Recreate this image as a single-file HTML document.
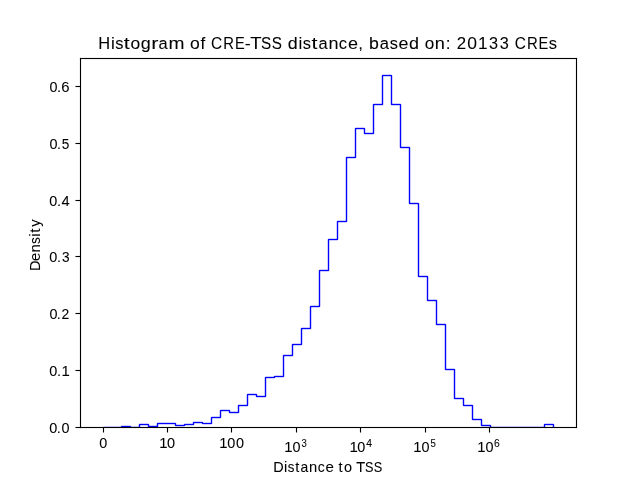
<!DOCTYPE html>
<html><head><meta charset="utf-8"><title>Histogram of CRE-TSS distance</title>
<style>
html,body{margin:0;padding:0;background:#fff;}
body{width:640px;height:480px;overflow:hidden;}
svg{display:block;will-change:transform;}
text{font-family:"Liberation Sans",sans-serif;fill:#000;stroke:#000;stroke-width:0.06px;}
</style></head><body>
<svg width="640" height="480" viewBox="0 0 640 480">
<rect width="640" height="480" fill="#fff"/>
<g shape-rendering="crispEdges">
<path fill="#00f" fill-opacity="0.098" d="M103 426h1v1h-1z"/>
<path fill="#00f" fill-opacity="0.1176" d="M382 74h1v1h-1zM391 74h1v1h-1zM381 75h1v1h-1zM392 75h1v1h-1zM373 103h1v1h-1zM400 103h1v1h-1zM372 104h1v1h-1zM383 104h1v1h-1zM390 104h1v1h-1zM401 104h1v1h-1zM382 105h1v1h-1zM391 105h1v1h-1zM355 127h1v1h-1zM364 127h1v1h-1zM354 128h1v1h-1zM365 128h1v1h-1zM363 133h1v1h-1zM374 133h1v1h-1zM364 134h1v1h-1zM373 134h1v1h-1zM409 146h1v1h-1zM399 147h1v1h-1zM410 147h1v1h-1zM400 148h1v1h-1zM346 156h1v1h-1zM345 157h1v1h-1zM356 157h1v1h-1zM355 158h1v1h-1zM418 202h1v1h-1zM408 203h1v1h-1zM419 203h1v1h-1zM409 204h1v1h-1zM337 220h1v1h-1zM336 221h1v1h-1zM347 221h1v1h-1zM346 222h1v1h-1zM328 238h1v1h-1zM327 239h1v1h-1zM338 239h1v1h-1zM337 240h1v1h-1zM319 269h1v1h-1zM318 270h1v1h-1zM329 270h1v1h-1zM328 271h1v1h-1zM427 275h1v1h-1zM417 276h1v1h-1zM428 276h1v1h-1zM418 277h1v1h-1zM436 299h1v1h-1zM426 300h1v1h-1zM437 300h1v1h-1zM427 301h1v1h-1zM310 305h1v1h-1zM309 306h1v1h-1zM320 306h1v1h-1zM319 307h1v1h-1zM445 323h1v1h-1zM435 324h1v1h-1zM446 324h1v1h-1zM436 325h1v1h-1zM301 327h1v1h-1zM300 328h1v1h-1zM311 328h1v1h-1zM310 329h1v1h-1zM292 343h1v1h-1zM291 344h1v1h-1zM302 344h1v1h-1zM301 345h1v1h-1zM283 354h1v1h-1zM282 355h1v1h-1zM293 355h1v1h-1zM292 356h1v1h-1zM454 368h1v1h-1zM444 369h1v1h-1zM455 369h1v1h-1zM445 370h1v1h-1zM274 375h1v1h-1zM265 376h1v1h-1zM284 376h1v1h-1zM264 377h1v1h-1zM283 377h1v1h-1zM274 378h1v1h-1zM247 393h1v1h-1zM256 393h1v1h-1zM246 394h1v1h-1zM257 394h1v1h-1zM255 396h1v1h-1zM266 396h1v1h-1zM256 397h1v1h-1zM265 397h1v1h-1zM463 397h1v1h-1zM453 398h1v1h-1zM464 398h1v1h-1zM454 399h1v1h-1zM238 404h1v1h-1zM472 404h1v1h-1zM237 405h1v1h-1zM248 405h1v1h-1zM462 405h1v1h-1zM473 405h1v1h-1zM247 406h1v1h-1zM463 406h1v1h-1zM220 409h1v1h-1zM229 409h1v1h-1zM219 410h1v1h-1zM230 410h1v1h-1zM228 412h1v1h-1zM239 412h1v1h-1zM229 413h1v1h-1zM238 413h1v1h-1zM211 416h1v1h-1zM210 417h1v1h-1zM221 417h1v1h-1zM220 418h1v1h-1zM481 418h1v1h-1zM471 419h1v1h-1zM482 419h1v1h-1zM472 420h1v1h-1zM193 421h1v1h-1zM202 421h1v1h-1zM157 422h1v1h-1zM175 422h1v1h-1zM192 422h1v1h-1zM139 423h1v1h-1zM148 423h1v1h-1zM156 423h1v1h-1zM176 423h1v1h-1zM184 423h1v1h-1zM212 423h1v1h-1zM544 423h1v1h-1zM553 423h1v1h-1zM138 424h1v1h-1zM149 424h1v1h-1zM194 424h1v1h-1zM202 424h1v1h-1zM211 424h1v1h-1zM490 424h1v1h-1zM543 424h1v1h-1zM554 424h1v1h-1zM121 425h1v1h-1zM130 425h1v1h-1zM174 425h1v1h-1zM193 425h1v1h-1zM480 425h1v1h-1zM491 425h1v1h-1zM147 426h1v1h-1zM158 426h1v1h-1zM175 426h1v1h-1zM184 426h1v1h-1zM481 426h1v1h-1z"/>
<path fill="#00f" fill-opacity="0.1961" d="M383 74h8v1h-8zM381 76h1v27h-1zM384 76h6v1h-6zM392 76h1v27h-1zM383 77h1v27h-1zM390 77h1v27h-1zM374 103h7v1h-7zM393 103h7v1h-7zM372 105h1v27h-1zM375 105h7v1h-7zM392 105h7v1h-7zM401 105h1v41h-1zM374 106h1v27h-1zM399 106h1v41h-1zM356 127h8v1h-8zM354 129h1v27h-1zM357 129h6v1h-6zM365 129h1v3h-1zM356 130h1v27h-1zM363 130h1v3h-1zM366 132h6v1h-6zM365 134h8v1h-8zM402 146h7v1h-7zM401 148h7v1h-7zM410 148h1v54h-1zM408 149h1v54h-1zM347 156h7v1h-7zM345 158h1v62h-1zM348 158h7v1h-7zM347 159h1v62h-1zM411 202h7v1h-7zM410 204h7v1h-7zM419 204h1v71h-1zM417 205h1v71h-1zM338 220h7v1h-7zM336 222h1v16h-1zM339 222h7v1h-7zM338 223h1v16h-1zM329 238h7v1h-7zM327 240h1v29h-1zM330 240h7v1h-7zM329 241h1v29h-1zM320 269h7v1h-7zM318 271h1v34h-1zM321 271h7v1h-7zM320 272h1v34h-1zM420 275h7v1h-7zM419 277h7v1h-7zM428 277h1v22h-1zM426 278h1v22h-1zM429 299h7v1h-7zM428 301h7v1h-7zM437 301h1v22h-1zM435 302h1v22h-1zM311 305h7v1h-7zM309 307h1v20h-1zM312 307h7v1h-7zM311 308h1v20h-1zM438 323h7v1h-7zM437 325h7v1h-7zM446 325h1v43h-1zM444 326h1v43h-1zM302 327h7v1h-7zM300 329h1v14h-1zM303 329h7v1h-7zM302 330h1v14h-1zM293 343h7v1h-7zM291 345h1v9h-1zM294 345h7v1h-7zM293 346h1v9h-1zM284 354h7v1h-7zM282 356h1v19h-1zM285 356h7v1h-7zM284 357h1v19h-1zM447 368h7v1h-7zM446 370h7v1h-7zM455 370h1v27h-1zM453 371h1v27h-1zM275 375h7v1h-7zM266 376h7v1h-7zM276 377h7v1h-7zM264 378h1v17h-1zM267 378h7v1h-7zM266 379h1v17h-1zM248 393h8v1h-8zM246 395h1v9h-1zM249 395h6v1h-6zM258 395h6v1h-6zM248 396h1v9h-1zM257 397h8v1h-8zM456 397h7v1h-7zM455 399h7v1h-7zM464 399h1v5h-1zM462 400h1v5h-1zM239 404h7v1h-7zM465 404h7v1h-7zM237 406h1v5h-1zM240 406h7v1h-7zM464 406h7v1h-7zM473 406h1v12h-1zM239 407h1v5h-1zM471 407h1v12h-1zM221 409h8v1h-8zM219 411h1v5h-1zM222 411h6v1h-6zM231 411h6v1h-6zM221 412h1v5h-1zM230 413h8v1h-8zM212 416h7v1h-7zM210 418h1v4h-1zM213 418h7v1h-7zM474 418h7v1h-7zM212 419h1v4h-1zM473 420h7v1h-7zM482 420h1v4h-1zM194 421h8v1h-8zM480 421h1v4h-1zM158 422h17v1h-17zM204 422h6v1h-6zM140 423h8v1h-8zM185 423h7v1h-7zM195 423h6v1h-6zM545 423h8v1h-8zM156 424h1v1h-1zM159 424h15v1h-15zM177 424h6v1h-6zM203 424h8v1h-8zM483 424h7v1h-7zM122 425h8v1h-8zM138 425h1v1h-1zM141 425h6v1h-6zM150 425h6v1h-6zM158 425h1v1h-1zM186 425h7v1h-7zM543 425h1v1h-1zM546 425h6v1h-6zM554 425h1v2h-1zM104 426h16v1h-16zM132 426h6v1h-6zM140 426h1v1h-1zM176 426h8v1h-8zM482 426h7v1h-7zM492 426h51v1h-51zM545 426h1v1h-1zM552 426h1v1h-1z"/>
<path fill="#00f" fill-opacity="0.2784" d="M273 376h1v1h-1zM275 377h1v1h-1zM203 422h1v1h-1zM201 423h1v1h-1zM183 424h1v1h-1zM185 425h1v1h-1zM120 426h1v1h-1zM131 426h1v1h-1z"/>
<path fill="#00f" fill-opacity="0.3569" d="M383 76h1v1h-1zM390 76h1v1h-1zM381 103h1v1h-1zM392 103h1v1h-1zM374 105h1v1h-1zM399 105h1v1h-1zM356 129h1v1h-1zM363 129h1v1h-1zM365 132h1v1h-1zM372 132h1v1h-1zM401 146h1v1h-1zM408 148h1v1h-1zM354 156h1v1h-1zM347 158h1v1h-1zM410 202h1v1h-1zM417 204h1v1h-1zM345 220h1v1h-1zM338 222h1v1h-1zM336 238h1v1h-1zM329 240h1v1h-1zM327 269h1v1h-1zM320 271h1v1h-1zM419 275h1v1h-1zM426 277h1v1h-1zM428 299h1v1h-1zM435 301h1v1h-1zM318 305h1v1h-1zM311 307h1v1h-1zM437 323h1v1h-1zM444 325h1v1h-1zM309 327h1v1h-1zM302 329h1v1h-1zM300 343h1v1h-1zM293 345h1v1h-1zM291 354h1v1h-1zM284 356h1v1h-1zM446 368h1v1h-1zM453 370h1v1h-1zM282 375h1v1h-1zM266 378h1v1h-1zM248 395h1v1h-1zM255 395h1v1h-1zM257 395h1v1h-1zM264 395h1v1h-1zM455 397h1v1h-1zM462 399h1v1h-1zM246 404h1v1h-1zM464 404h1v1h-1zM239 406h1v1h-1zM471 406h1v1h-1zM221 411h1v1h-1zM228 411h1v1h-1zM230 411h1v1h-1zM237 411h1v1h-1zM219 416h1v1h-1zM212 418h1v1h-1zM473 418h1v1h-1zM480 420h1v1h-1zM210 422h1v1h-1zM192 423h1v1h-1zM194 423h1v1h-1zM158 424h1v1h-1zM174 424h1v1h-1zM176 424h1v1h-1zM482 424h1v1h-1zM140 425h1v1h-1zM147 425h1v1h-1zM149 425h1v1h-1zM156 425h1v1h-1zM545 425h1v1h-1zM552 425h1v1h-1zM138 426h1v1h-1zM489 426h1v1h-1zM491 426h1v1h-1zM543 426h1v1h-1z"/>
<path fill="#00f" fill-opacity="0.9608" d="M382 75h1v1h-1zM391 75h1v1h-1zM373 104h1v1h-1zM382 104h1v1h-1zM391 104h1v1h-1zM400 104h1v1h-1zM355 128h1v1h-1zM364 128h1v1h-1zM364 133h1v1h-1zM373 133h1v1h-1zM400 147h1v1h-1zM409 147h1v1h-1zM346 157h1v1h-1zM355 157h1v1h-1zM409 203h1v1h-1zM418 203h1v1h-1zM337 221h1v1h-1zM346 221h1v1h-1zM328 239h1v1h-1zM337 239h1v1h-1zM319 270h1v1h-1zM328 270h1v1h-1zM418 276h1v1h-1zM427 276h1v1h-1zM427 300h1v1h-1zM436 300h1v1h-1zM310 306h1v1h-1zM319 306h1v1h-1zM436 324h1v1h-1zM445 324h1v1h-1zM301 328h1v1h-1zM310 328h1v1h-1zM292 344h1v1h-1zM301 344h1v1h-1zM283 355h1v1h-1zM292 355h1v1h-1zM445 369h1v1h-1zM454 369h1v1h-1zM274 376h1v2h-1zM283 376h1v1h-1zM265 377h1v1h-1zM247 394h1v1h-1zM256 394h1v1h-1zM256 396h1v1h-1zM265 396h1v1h-1zM454 398h1v1h-1zM463 398h1v1h-1zM238 405h1v1h-1zM247 405h1v1h-1zM463 405h1v1h-1zM472 405h1v1h-1zM220 410h1v1h-1zM229 410h1v1h-1zM229 412h1v1h-1zM238 412h1v1h-1zM211 417h1v1h-1zM220 417h1v1h-1zM472 419h1v1h-1zM481 419h1v1h-1zM193 422h1v1h-1zM202 422h1v2h-1zM157 423h1v1h-1zM175 423h1v1h-1zM211 423h1v1h-1zM139 424h1v1h-1zM148 424h1v1h-1zM184 424h1v2h-1zM193 424h1v1h-1zM544 424h1v1h-1zM553 424h1v1h-1zM175 425h1v1h-1zM481 425h1v1h-1zM490 425h1v1h-1zM121 426h1v1h-1zM130 426h1v1h-1zM148 426h1v1h-1zM157 426h1v1h-1z"/>
<path fill="#00f" fill-opacity="1" d="M383 75h8v1h-8zM382 76h1v28h-1zM391 76h1v28h-1zM374 104h8v1h-8zM392 104h8v1h-8zM373 105h1v28h-1zM400 105h1v42h-1zM356 128h8v1h-8zM355 129h1v28h-1zM364 129h1v4h-1zM365 133h8v1h-8zM401 147h8v1h-8zM409 148h1v55h-1zM347 157h8v1h-8zM346 158h1v63h-1zM410 203h8v1h-8zM418 204h1v72h-1zM338 221h8v1h-8zM337 222h1v17h-1zM329 239h8v1h-8zM328 240h1v30h-1zM320 270h8v1h-8zM319 271h1v35h-1zM419 276h8v1h-8zM427 277h1v23h-1zM428 300h8v1h-8zM436 301h1v23h-1zM311 306h8v1h-8zM310 307h1v21h-1zM437 324h8v1h-8zM445 325h1v44h-1zM302 328h8v1h-8zM301 329h1v15h-1zM293 344h8v1h-8zM292 345h1v10h-1zM284 355h8v1h-8zM283 356h1v20h-1zM446 369h8v1h-8zM454 370h1v28h-1zM275 376h8v1h-8zM266 377h8v1h-8zM265 378h1v18h-1zM248 394h8v1h-8zM247 395h1v10h-1zM256 395h1v1h-1zM257 396h8v1h-8zM455 398h8v1h-8zM463 399h1v6h-1zM239 405h8v1h-8zM464 405h8v1h-8zM238 406h1v6h-1zM472 406h1v13h-1zM221 410h8v1h-8zM220 411h1v6h-1zM229 411h1v1h-1zM230 412h8v1h-8zM212 417h8v1h-8zM211 418h1v5h-1zM473 419h8v1h-8zM481 420h1v5h-1zM194 422h8v1h-8zM158 423h17v1h-17zM193 423h1v1h-1zM203 423h8v1h-8zM140 424h8v1h-8zM157 424h1v2h-1zM175 424h1v1h-1zM185 424h8v1h-8zM545 424h8v1h-8zM139 425h1v2h-1zM148 425h1v1h-1zM176 425h8v1h-8zM482 425h8v1h-8zM544 425h1v2h-1zM553 425h1v2h-1zM122 426h8v1h-8zM149 426h8v1h-8zM490 426h1v1h-1z"/>
<path fill="#000" fill-opacity="0.0078" d="M79 57h1v1h-1zM577 57h1v1h-1zM577 428h1v1h-1z"/>
<path fill="#000" fill-opacity="0.0275" d="M75 85h1v1h-1zM75 87h1v1h-1zM75 142h1v1h-1zM75 144h1v1h-1zM75 199h1v1h-1zM75 201h1v1h-1zM75 255h1v1h-1zM75 257h1v1h-1zM75 312h1v1h-1zM75 314h1v1h-1zM75 369h1v1h-1zM75 371h1v1h-1zM75 426h1v1h-1zM75 428h1v1h-1zM102 432h1v1h-1zM104 432h1v1h-1zM166 432h1v1h-1zM168 432h1v1h-1zM230 432h1v1h-1zM232 432h1v1h-1zM295 432h1v1h-1zM297 432h1v1h-1zM359 432h1v1h-1zM361 432h1v1h-1zM424 432h1v1h-1zM426 432h1v1h-1zM488 432h1v1h-1zM490 432h1v1h-1z"/>
<path fill="#000" fill-opacity="0.0549" d="M82 57h493v1h-493zM82 59h493v1h-493zM79 60h1v25h-1zM81 60h1v366h-1zM575 60h1v366h-1zM577 60h1v366h-1zM76 85h3v1h-3zM76 87h3v1h-3zM79 88h1v54h-1zM76 142h3v1h-3zM76 144h3v1h-3zM79 145h1v54h-1zM76 199h3v1h-3zM76 201h3v1h-3zM79 202h1v53h-1zM76 255h3v1h-3zM76 257h3v1h-3zM79 258h1v54h-1zM76 312h3v1h-3zM76 314h3v1h-3zM79 315h1v54h-1zM76 369h3v1h-3zM76 371h3v1h-3zM79 372h1v54h-1zM76 426h3v1h-3zM82 426h493v1h-493zM76 428h3v1h-3zM82 428h20v1h-20zM105 428h61v1h-61zM169 428h61v1h-61zM233 428h62v1h-62zM298 428h61v1h-61zM362 428h62v1h-62zM427 428h61v1h-61zM491 428h84v1h-84zM102 429h1v3h-1zM104 429h1v3h-1zM166 429h1v3h-1zM168 429h1v3h-1zM230 429h1v3h-1zM232 429h1v3h-1zM295 429h1v3h-1zM297 429h1v3h-1zM359 429h1v3h-1zM361 429h1v3h-1zM424 429h1v3h-1zM426 429h1v3h-1zM488 429h1v3h-1zM490 429h1v3h-1z"/>
<path fill="#000" fill-opacity="0.0588" d="M81 57h1v1h-1zM575 57h1v1h-1zM79 59h1v1h-1zM577 59h1v1h-1zM577 426h1v1h-1zM81 428h1v1h-1zM575 428h1v1h-1z"/>
<path fill="#000" fill-opacity="0.0627" d="M79 428h1v1h-1z"/>
<path fill="#000" fill-opacity="0.1098" d="M80 57h1v1h-1zM576 57h1v1h-1zM79 58h1v1h-1zM577 58h1v1h-1zM81 59h1v1h-1zM575 59h1v1h-1zM79 85h1v1h-1zM79 87h1v1h-1zM79 142h1v1h-1zM79 144h1v1h-1zM79 199h1v1h-1zM79 201h1v1h-1zM79 255h1v1h-1zM79 257h1v1h-1zM79 312h1v1h-1zM79 314h1v1h-1zM79 369h1v1h-1zM79 371h1v1h-1zM81 426h1v1h-1zM575 426h1v1h-1zM577 427h1v1h-1zM102 428h1v1h-1zM104 428h1v1h-1zM166 428h1v1h-1zM168 428h1v1h-1zM230 428h1v1h-1zM232 428h1v1h-1zM295 428h1v1h-1zM297 428h1v1h-1zM359 428h1v1h-1zM361 428h1v1h-1zM424 428h1v1h-1zM426 428h1v1h-1zM488 428h1v1h-1zM490 428h1v1h-1zM576 428h1v1h-1z"/>
<path fill="#000" fill-opacity="0.1137" d="M79 426h1v1h-1z"/>
<path fill="#000" fill-opacity="0.1333" d="M80 428h1v1h-1z"/>
<path fill="#000" fill-opacity="0.502" d="M75 86h1v1h-1zM75 143h1v1h-1zM75 200h1v1h-1zM75 256h1v1h-1zM75 313h1v1h-1zM75 370h1v1h-1zM75 427h1v1h-1zM103 432h1v1h-1zM167 432h1v1h-1zM231 432h1v1h-1zM296 432h1v1h-1zM360 432h1v1h-1zM425 432h1v1h-1zM489 432h1v1h-1z"/>
<path fill="#000" fill-opacity="1" d="M80 58h497v1h-497zM80 59h1v27h-1zM576 59h1v368h-1zM76 86h5v1h-5zM80 87h1v56h-1zM76 143h5v1h-5zM80 144h1v56h-1zM76 200h5v1h-5zM80 201h1v55h-1zM76 256h5v1h-5zM80 257h1v56h-1zM76 313h5v1h-5zM80 314h1v56h-1zM76 370h5v1h-5zM80 371h1v56h-1zM76 427h501v1h-501zM103 428h1v4h-1zM167 428h1v4h-1zM231 428h1v4h-1zM296 428h1v4h-1zM360 428h1v4h-1zM425 428h1v4h-1zM489 428h1v4h-1z"/>
</g>
<text x="0.601 13.243 17.527 25.876 32.567 42.838 53.018 60.279 70.106 85.289 91.459 101.867 106.673 112.346 124.397 135.979 145.717 151.249 161.853 172.441 183.607 188.321 198.929 203.131 211.886 218.657 228.595 238.835 247.91 258.191 263.08 268.772 279.428 289.179 298.051 308.29 318.896 323.834 333.875 344.72 349.56 355.697 366.065 376.722 387.636 398.282 408.372 412.963 425.071 436.479 446.771" y="0" font-size="17" transform="translate(97.6 49) scale(1.01 1)"><tspan textLength="11.782" lengthAdjust="spacingAndGlyphs">H</tspan>i<tspan textLength="8.168" lengthAdjust="spacingAndGlyphs">s</tspan><tspan textLength="5.904" lengthAdjust="spacingAndGlyphs">t</tspan><tspan textLength="9.598" lengthAdjust="spacingAndGlyphs">o</tspan><tspan textLength="9.906" lengthAdjust="spacingAndGlyphs">g</tspan><tspan textLength="7.076" lengthAdjust="spacingAndGlyphs">r</tspan><tspan textLength="9.068" lengthAdjust="spacingAndGlyphs">a</tspan><tspan textLength="15.873" lengthAdjust="spacingAndGlyphs">m</tspan> <tspan textLength="9.668" lengthAdjust="spacingAndGlyphs">o</tspan>f <tspan textLength="11.069" lengthAdjust="spacingAndGlyphs">C</tspan><tspan textLength="10.605" lengthAdjust="spacingAndGlyphs">R</tspan><tspan textLength="9.638" lengthAdjust="spacingAndGlyphs">E</tspan><tspan textLength="5.894" lengthAdjust="spacingAndGlyphs">-</tspan><tspan textLength="11.208" lengthAdjust="spacingAndGlyphs">T</tspan><tspan textLength="10.105" lengthAdjust="spacingAndGlyphs">S</tspan><tspan textLength="10.097" lengthAdjust="spacingAndGlyphs">S</tspan> <tspan textLength="9.86" lengthAdjust="spacingAndGlyphs">d</tspan>i<tspan textLength="8.146" lengthAdjust="spacingAndGlyphs">s</tspan><tspan textLength="5.904" lengthAdjust="spacingAndGlyphs">t</tspan><tspan textLength="9.061" lengthAdjust="spacingAndGlyphs">a</tspan><tspan textLength="9.93" lengthAdjust="spacingAndGlyphs">n</tspan><tspan textLength="8.183" lengthAdjust="spacingAndGlyphs">c</tspan><tspan textLength="9.947" lengthAdjust="spacingAndGlyphs">e</tspan>, <tspan textLength="9.747" lengthAdjust="spacingAndGlyphs">b</tspan><tspan textLength="9.126" lengthAdjust="spacingAndGlyphs">a</tspan><tspan textLength="8.118" lengthAdjust="spacingAndGlyphs">s</tspan><tspan textLength="9.831" lengthAdjust="spacingAndGlyphs">e</tspan><tspan textLength="9.9" lengthAdjust="spacingAndGlyphs">d</tspan> <tspan textLength="9.435" lengthAdjust="spacingAndGlyphs">o</tspan><tspan textLength="9.994" lengthAdjust="spacingAndGlyphs">n</tspan>: <tspan textLength="9.262" lengthAdjust="spacingAndGlyphs">2</tspan><tspan textLength="9.65" lengthAdjust="spacingAndGlyphs">0</tspan><tspan textLength="9.485" lengthAdjust="spacingAndGlyphs">1</tspan><tspan textLength="8.975" lengthAdjust="spacingAndGlyphs">3</tspan><tspan textLength="8.968" lengthAdjust="spacingAndGlyphs">3</tspan> <tspan textLength="11.041" lengthAdjust="spacingAndGlyphs">C</tspan><tspan textLength="10.661" lengthAdjust="spacingAndGlyphs">R</tspan><tspan textLength="9.638" lengthAdjust="spacingAndGlyphs">E</tspan><tspan textLength="8.179" lengthAdjust="spacingAndGlyphs">s</tspan></text>
<text x="2.281 9.667 14.129" y="0" font-size="14" transform="translate(46.9 433) scale(1.03 1)"><tspan textLength="7.813" lengthAdjust="spacingAndGlyphs">0</tspan>.0</text>
<text x="2.328 9.575 13.903" y="0" font-size="14" transform="translate(46.9 376) scale(1.043 1)"><tspan textLength="7.703" lengthAdjust="spacingAndGlyphs">0</tspan>.<tspan textLength="7.924" lengthAdjust="spacingAndGlyphs">1</tspan></text>
<text x="2.552 9.809 14.337" y="0" font-size="14" transform="translate(46.9 319) scale(1.016 1)"><tspan textLength="7.888" lengthAdjust="spacingAndGlyphs">0</tspan>.<tspan textLength="7.648" lengthAdjust="spacingAndGlyphs">2</tspan></text>
<text x="2.446 10.052 14.913" y="0" font-size="14" transform="translate(46.9 262) scale(1.005 1)"><tspan textLength="7.985" lengthAdjust="spacingAndGlyphs">0</tspan>.<tspan textLength="7.538" lengthAdjust="spacingAndGlyphs">3</tspan></text>
<text x="2.352 9.606 14.042" y="0" font-size="14" transform="translate(46.9 206) scale(1.042 1)"><tspan textLength="7.698" lengthAdjust="spacingAndGlyphs">0</tspan>.<tspan textLength="7.827" lengthAdjust="spacingAndGlyphs">4</tspan></text>
<text x="2.56 9.963 14.812" y="0" font-size="14" transform="translate(46.9 149) scale(1.002 1)"><tspan textLength="8.002" lengthAdjust="spacingAndGlyphs">0</tspan>.<tspan textLength="7.563" lengthAdjust="spacingAndGlyphs">5</tspan></text>
<text x="2.454 9.599 13.795" y="0" font-size="14" transform="translate(46.9 92) scale(1.049 1)"><tspan textLength="7.619" lengthAdjust="spacingAndGlyphs">0</tspan>.<tspan textLength="7.887" lengthAdjust="spacingAndGlyphs">6</tspan></text>
<text x="2.373" y="0" font-size="14" transform="translate(96.9 448) scale(1.033 1)"><tspan textLength="7.761" lengthAdjust="spacingAndGlyphs">0</tspan></text>
<text x="2.332 9.786" y="0" font-size="14" transform="translate(156.9 448) scale(1.044 1)"><tspan textLength="7.908" lengthAdjust="spacingAndGlyphs">1</tspan><tspan textLength="7.728" lengthAdjust="spacingAndGlyphs">0</tspan></text>
<text x="2.277 10.018 18.271" y="0" font-size="14" transform="translate(216.9 448) scale(1.042 1)"><tspan textLength="7.932" lengthAdjust="spacingAndGlyphs">1</tspan><tspan textLength="7.721" lengthAdjust="spacingAndGlyphs">0</tspan><tspan textLength="7.734" lengthAdjust="spacingAndGlyphs">0</tspan></text>
<text x="2.321 10.087" y="0" font-size="14" transform="translate(281.9 452) scale(1.043 1)"><tspan textLength="7.921" lengthAdjust="spacingAndGlyphs">1</tspan><tspan textLength="7.681" lengthAdjust="spacingAndGlyphs">0</tspan></text>
<text x="3.878" y="0" font-size="10" transform="translate(298 447) scale(0.932 1)"><tspan textLength="5.688" lengthAdjust="spacingAndGlyphs">3</tspan></text>
<text x="2.401 9.974" y="0" font-size="14" transform="translate(346.9 452) scale(1.044 1)"><tspan textLength="7.969" lengthAdjust="spacingAndGlyphs">1</tspan><tspan textLength="7.696" lengthAdjust="spacingAndGlyphs">0</tspan></text>
<text x="3.279" y="0" font-size="10" transform="translate(362.8 447) scale(1.031 1)"><tspan textLength="5.55" lengthAdjust="spacingAndGlyphs">4</tspan></text>
<text x="2.321 10.087" y="0" font-size="14" transform="translate(410.9 452) scale(1.043 1)"><tspan textLength="7.921" lengthAdjust="spacingAndGlyphs">1</tspan><tspan textLength="7.681" lengthAdjust="spacingAndGlyphs">0</tspan></text>
<text x="4.171" y="0" font-size="10" transform="translate(426.5 447) scale(0.963 1)"><tspan textLength="5.548" lengthAdjust="spacingAndGlyphs">5</tspan></text>
<text x="2.321 10.087" y="0" font-size="14" transform="translate(474.9 452) scale(1.043 1)"><tspan textLength="7.921" lengthAdjust="spacingAndGlyphs">1</tspan><tspan textLength="7.681" lengthAdjust="spacingAndGlyphs">0</tspan></text>
<text x="3.57" y="0" font-size="10" transform="translate(490.4 447) scale(1.04 1)"><tspan textLength="5.549" lengthAdjust="spacingAndGlyphs">6</tspan></text>
<text x="1.479 11.832 15.349 22.46 27.589 35.759 44.105 51.38 59.138 63.885 68.943 76.767 80.816 89.121 97.501" y="0" font-size="14" transform="translate(271.7 472) scale(1.047 1)"><tspan textLength="9.979" lengthAdjust="spacingAndGlyphs">D</tspan>i<tspan textLength="6.367" lengthAdjust="spacingAndGlyphs">s</tspan>t<tspan textLength="7.398" lengthAdjust="spacingAndGlyphs">a</tspan><tspan textLength="7.828" lengthAdjust="spacingAndGlyphs">n</tspan><tspan textLength="6.661" lengthAdjust="spacingAndGlyphs">c</tspan><tspan textLength="8.003" lengthAdjust="spacingAndGlyphs">e</tspan> t<tspan textLength="7.694" lengthAdjust="spacingAndGlyphs">o</tspan> <tspan textLength="8.531" lengthAdjust="spacingAndGlyphs">T</tspan><tspan textLength="8.102" lengthAdjust="spacingAndGlyphs">S</tspan><tspan textLength="8.142" lengthAdjust="spacingAndGlyphs">S</tspan></text>
<text x="8.35 17.443 25.351 33.101 39.824 43.522 48.842" y="0" font-size="14" transform="translate(39.958 280) rotate(-90) scale(1.088 1)"><tspan textLength="9.601" lengthAdjust="spacingAndGlyphs">D</tspan><tspan textLength="7.588" lengthAdjust="spacingAndGlyphs">e</tspan><tspan textLength="7.648" lengthAdjust="spacingAndGlyphs">n</tspan><tspan textLength="6.317" lengthAdjust="spacingAndGlyphs">s</tspan>it<tspan textLength="6.756" lengthAdjust="spacingAndGlyphs">y</tspan></text>
</svg>
</body></html>
